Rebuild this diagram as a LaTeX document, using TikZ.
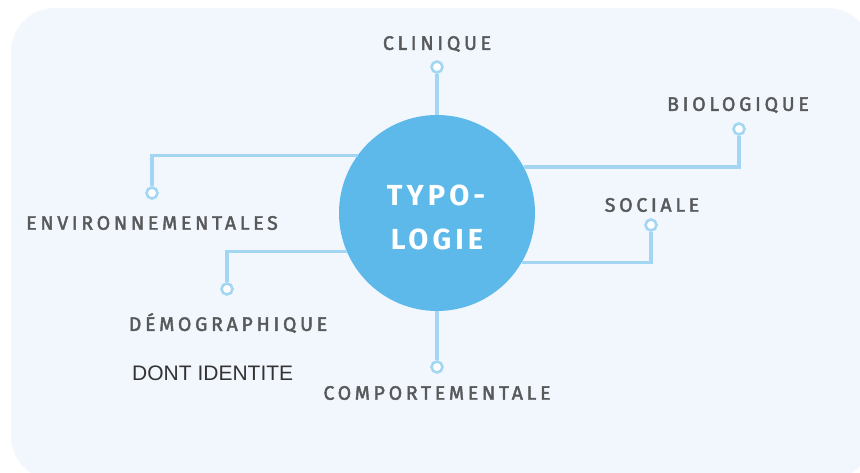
\documentclass[tikz,border=0pt]{standalone}
\usepackage{fontspec}
\setmainfont{Liberation Sans}
\newfontfamily\tagfont[LetterSpace=19,FakeBold=2.2]{Fira Sans}
\newfontfamily\hubfont[LetterSpace=14]{Fira Sans Bold}
\definecolor{panel}{HTML}{F2F7FE}
\definecolor{hubblue}{HTML}{5DB9E9}
\definecolor{wire}{HTML}{A2D6F2}
\definecolor{tagtext}{HTML}{58595B}
\definecolor{notetext}{HTML}{333333}
\begin{document}
\begin{tikzpicture}[x=1pt,y=-1pt,
  hubnode/.style={circle,fill=hubblue,minimum size=196pt,inner sep=0pt},
  dot/.style={circle,draw=wire,fill=white,line width=2.6pt,minimum size=11pt,inner sep=0pt},
  wireline/.style={draw=wire,line width=3.2pt},
  tag/.style={text=tagtext,font=\tagfont\fontsize{19.5}{22}\selectfont,inner sep=0pt},
  note/.style={text=notetext,font=\fontsize{21}{24}\selectfont,inner sep=0pt,anchor=west}]
  % canvas and panel
  \useasboundingbox (0,0) rectangle (860,472);
  \fill[white] (0,0) rectangle (860,472);
  \fill[panel,rounded corners=44pt] (11,8) rectangle (872,480);

  % central hub
  \node[hubnode] (hub) at (437,213) {};
  \node[text=white,font=\hubfont\fontsize{29}{30}\selectfont,inner sep=0pt] (hubA) at (436,195) {TYPO-};
  \node[text=white,font=\hubfont\fontsize{29}{30}\selectfont,inner sep=0pt] (hubB) at (437,239) {LOGIE};

  % end dots
  \node[dot] (dClin) at (437,67) {};
  \node[dot] (dBio)  at (739,129) {};
  \node[dot] (dSoc)  at (651,225) {};
  \node[dot] (dComp) at (437,367) {};
  \node[dot] (dEnv)  at (152,193) {};
  \node[dot] (dDemo) at (227,289) {};

  % connectors from the hub rim to the dots
  \path[wireline] (hub.north) -- (dClin);
  \path[wireline] (hub.28.7) -| (dBio);
  \path[wireline] (hub.-30) -| (dSoc);
  \path[wireline] (hub.south) -- (dComp);
  \path[wireline] (hub.144.4) -| (dEnv);
  \path[wireline] (hub.203.4) -| (dDemo);

  % labels
  \node[tag] (tClin) at (437,44) {CLINIQUE};
  \node[tag] (tBio)  at (738,105) {BIOLOGIQUE};
  \node[tag] (tSoc)  at (652,205) {SOCIALE};
  \node[tag] (tComp) at (437,393) {COMPORTEMENTALE};
  \node[tag] (tEnv)  at (152,223) {ENVIRONNEMENTALES};
  \node[tag] (tDemo) at (228,323) {DÉMOGRAPHIQUE};
  \node[note] (tNote) at (132,373) {DONT IDENTITE};
\end{tikzpicture}
\end{document}
